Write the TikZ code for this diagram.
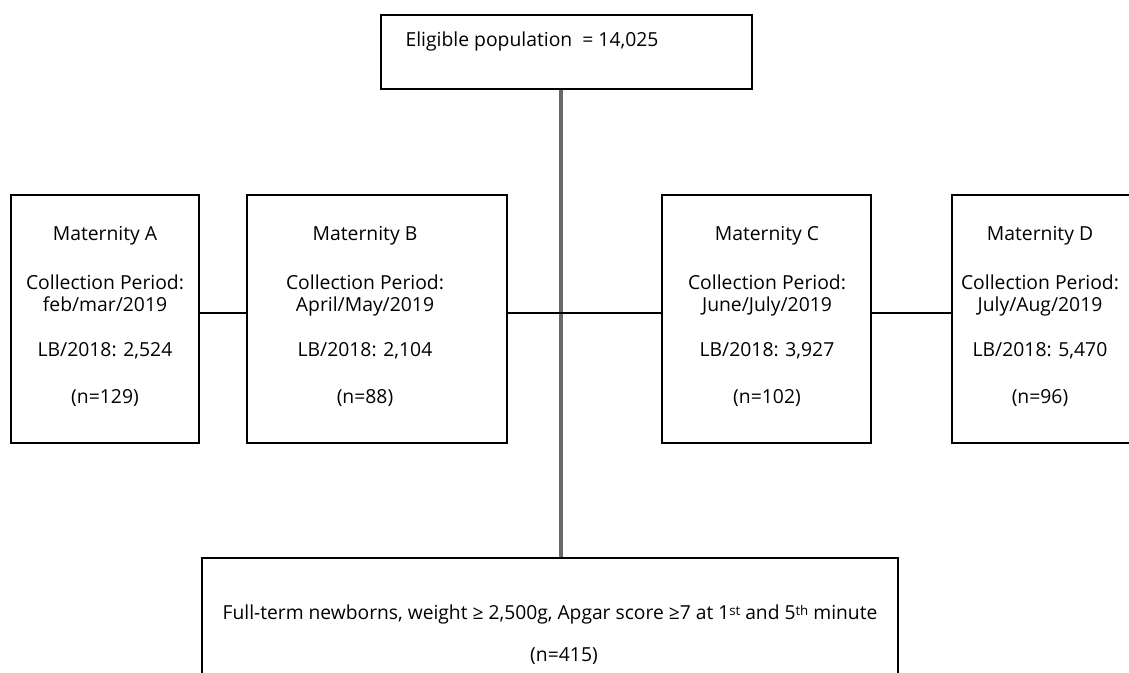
\documentclass[tikz,border=0pt]{standalone}
\usepackage{fontspec}
\setmainfont{Open Sans}
\definecolor{vgray}{RGB}{105,105,105}
\newcommand{\smallsup}[1]{\raisebox{2.5pt}{\fontsize{10pt}{10pt}\selectfont #1}}
\begin{document}
\begin{tikzpicture}[x=0.75pt,y=-0.75pt,
  box/.style={draw=black, line width=2pt, inner sep=0pt, fill=none},
  txt/.style={font=\fontsize{14.5pt}{17pt}\selectfont, inner sep=0pt, anchor=base},
  hline/.style={draw=black, line width=1.3pt},
  vline/.style={draw=vgray, line width=2.4pt}]
\useasboundingbox (0,0) rectangle (1129,673);
% boxes
\node[box, minimum width={371*0.75pt}, minimum height={74*0.75pt}] (top) at (566.5,52) {};
\node[box, minimum width={188*0.75pt}, minimum height={248*0.75pt}] (A) at (105,319) {};
\node[box, minimum width={260*0.75pt}, minimum height={248*0.75pt}] (B) at (377,319) {};
\node[box, minimum width={209*0.75pt}, minimum height={248*0.75pt}] (C) at (766.5,319) {};
\node[box, minimum width={183*0.75pt}, minimum height={248*0.75pt}] (D) at (1043.5,319) {};
\node[box, minimum width={696*0.75pt}, minimum height={162*0.75pt}] (bot) at (550,639) {};
% connectors
\coordinate (vtop) at ([xshift=-4.125pt]top.south);
\draw[vline] (vtop) -- (vtop |- bot.north);
\draw[hline] ([yshift=4.5pt]A.east) -- ([yshift=4.5pt]B.west);
\draw[hline] ([yshift=4.5pt]B.east) -- ([yshift=4.5pt]C.west);
\draw[hline] ([yshift=4.5pt]C.east) -- ([yshift=4.5pt]D.west);
% texts
\node[txt] (ttop) at (532,47) {Eligible population\ \ = 14,025};
\node[txt] (a1) at (105,241) {Maternity A};
\node[txt] (a2) at (105,290) {Collection Period:};
\node[txt] (a3) at (105,312) {feb/mar/2019};
\node[txt] (a4) at (105,357) {LB/2018: 2,524};
\node[txt] (a5) at (105,404) {(n=129)};
\node[txt] (b1) at (365,241) {Maternity B};
\node[txt] (b2) at (365,290) {Collection Period:};
\node[txt] (b3) at (365,312) {April/May/2019};
\node[txt] (b4) at (365,357) {LB/2018: 2,104};
\node[txt] (b5) at (365,404) {(n=88)};
\node[txt] (c1) at (767,241) {Maternity C};
\node[txt] (c2) at (767,290) {Collection Period:};
\node[txt] (c3) at (767,312) {June/July/2019};
\node[txt] (c4) at (767,357) {LB/2018: 3,927};
\node[txt] (c5) at (767,404) {(n=102)};
\node[txt] (d1) at (1040,241) {Maternity D};
\node[txt] (d2) at (1040,290) {Collection Period:};
\node[txt] (d3) at (1040,312) {July/Aug/2019};
\node[txt] (d4) at (1040,357) {LB/2018: 5,470};
\node[txt] (d5) at (1040,404) {(n=96)};
\node[txt] (e1) at (550,619) {\resizebox{491pt}{\height}{Full-term newborns, weight ≥ 2,500g, Apgar score ≥7 at 1\smallsup{st} and 5\smallsup{th} minute}};
\node[txt] (e2) at (564,662) {(n=415)};
\end{tikzpicture}
\end{document}
